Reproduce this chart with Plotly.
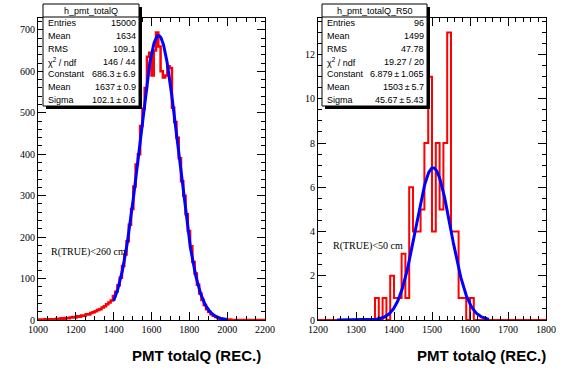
import numpy as np
import plotly.graph_objects as go

W, H = 567, 384

# ---------------- data ----------------
# Left: h_pmt_totalQ, 100 bins of 12 from 1000 to 2200
left_xmin, left_bw = 1000, 12
left_counts = [
    1, 0, 1, 2, 1, 2, 1, 2, 3, 2,
    4, 3, 5, 4, 6, 7, 6, 9, 8, 11,
    10, 14, 13, 17, 19, 21, 24, 26, 30, 33,
    38, 42, 47, 58, 68, 84, 102, 130, 158, 190,
    230, 268, 322, 375, 400, 468, 510, 560, 635, 645,
    590, 650, 694, 660, 600, 585, 590, 612, 608, 512,
    478, 440, 390, 335, 300, 255, 215, 178, 140, 112,
    85, 64, 48, 36, 26, 20, 14, 10, 7, 5,
    3, 2, 2, 1, 1, 0, 0, 0, 0, 0,
    0, 0, 0, 0, 0, 0, 0, 0, 0, 0,
]
# Right: h_pmt_totalQ_R50, 60 bins of 10 from 1200 to 1800
right_xmin, right_bw = 1200, 10
right_counts = [
    0, 0, 0, 0, 0, 0, 0, 0, 0, 0,
    0, 0, 0, 0, 0, 1, 0, 1, 0, 2,
    1, 1, 3, 1, 6, 4, 4, 5, 8, 11,
    4, 8, 5, 8, 13, 4, 4, 1, 1, 0,
    1, 0, 0, 0, 0, 0, 0, 0, 0, 0,
    0, 0, 0, 0, 0, 0, 0, 0, 0, 0,
]

# Gaussian fit parameters (from stats boxes)
left_fit = dict(const=686.3, mean=1637, sigma=102.1, lo=1400, hi=2000)
right_fit = dict(const=6.879, mean=1503, sigma=45.67, lo=1250, hi=1650)

PM = "\u2009±\u2009"
left_title = "h_pmt_totalQ"
left_stats = [("Entries", "15000"), ("Mean", "1634"), ("RMS", "109.1"),
              ("χ<sup>2</sup> / ndf", "146 / 44"), ("Constant", "686.3" + PM + "6.9"),
              ("Mean", "1637" + PM + "0.9"), ("Sigma", "102.1" + PM + "0.6")]
right_title = "h_pmt_totalQ_R50"
right_stats = [("Entries", "96"), ("Mean", "1499"), ("RMS", "47.78"),
               ("χ<sup>2</sup> / ndf", "19.27 / 20"), ("Constant", "6.879" + PM + "1.065"),
               ("Mean", "1503" + PM + "5.7"), ("Sigma", "45.67" + PM + "5.43")]
left_label = "R(TRUE)<260 cm"
right_label = "R(TRUE)<50 cm"
xtitle = "PMT totalQ (REC.)"


def px(x):
    return x / W


def py(y):
    return 1 - y / H


def step(xmin, bw, counts):
    edges = [xmin + i * bw for i in range(len(counts) + 1)]
    return edges, list(counts) + [counts[-1]]


def gauss(p):
    xs = np.linspace(p["lo"], p["hi"], 300)
    return xs, p["const"] * np.exp(-0.5 * ((xs - p["mean"]) / p["sigma"]) ** 2)


fig = go.Figure()

RED = "rgb(255,0,0)"
BLUE = "rgb(0,0,255)"

ex, ey = step(left_xmin, left_bw, left_counts)
fig.add_trace(go.Scatter(x=ex, y=ey, mode="lines", line=dict(shape="hv", color=RED, width=2.5),
                         xaxis="x", yaxis="y", showlegend=False, hoverinfo="skip"))
gx, gy = gauss(left_fit)
fig.add_trace(go.Scatter(x=gx, y=gy, mode="lines", line=dict(color=BLUE, width=3),
                         xaxis="x", yaxis="y", showlegend=False, hoverinfo="skip"))

ex, ey = step(right_xmin, right_bw, right_counts)
fig.add_trace(go.Scatter(x=ex, y=ey, mode="lines", line=dict(shape="hv", color=RED, width=2),
                         xaxis="x2", yaxis="y2", showlegend=False, hoverinfo="skip"))
gx, gy = gauss(right_fit)
fig.add_trace(go.Scatter(x=gx, y=gy, mode="lines", line=dict(color=BLUE, width=3),
                         xaxis="x2", yaxis="y2", showlegend=False, hoverinfo="skip"))

# panel geometry (window pixels)
L = dict(x0=38, x1=265)
R = dict(x0=318, x1=546)
TOP, BOT = 18, 320

tickfont = dict(family="Liberation Serif, Times New Roman, serif", size=10, color="black")
axcommon = dict(showgrid=False, zeroline=False, showline=True, linecolor="black", linewidth=1,
                mirror="allticks", ticks="inside", tickcolor="black", tickfont=tickfont,
                automargin=False)

ymax_left = 1.05 * max(left_counts)
ymax_right = 1.05 * max(right_counts)

fig.update_layout(
    width=W, height=H, margin=dict(l=0, r=0, t=0, b=0, autoexpand=False),
    paper_bgcolor="white", plot_bgcolor="white", hovermode=False,
    xaxis=dict(domain=[px(L["x0"]), px(L["x1"])], range=[1000, 2200], anchor="y",
               tick0=1000, dtick=200, ticklen=8,
               minor=dict(ticks="inside", dtick=50, ticklen=4, tickcolor="black"), **axcommon),
    yaxis=dict(domain=[py(BOT), py(TOP)], range=[0, ymax_left], anchor="x",
               tick0=0, dtick=100, ticklen=8,
               minor=dict(ticks="inside", dtick=20, ticklen=4, tickcolor="black"), **axcommon),
    xaxis2=dict(domain=[px(R["x0"]), px(R["x1"])], range=[1200, 1800], anchor="y2",
                tick0=1200, dtick=100, ticklen=8,
                minor=dict(ticks="inside", dtick=20, ticklen=4, tickcolor="black"), **axcommon),
    yaxis2=dict(domain=[py(BOT), py(TOP)], range=[0, ymax_right], anchor="x2",
                tick0=0, dtick=2, ticklen=8,
                minor=dict(ticks="inside", dtick=0.5, ticklen=4, tickcolor="black"), **axcommon),
)

shapes = []
annotations = []
sfont = dict(family="Liberation Sans, Arial, sans-serif", size=9, color="black")


def stats_box(x0, x1, y0, y1, title, rows, title_h=13):
    # shadow
    shapes.append(dict(type="rect", xref="paper", yref="paper",
                       x0=px(x0 + 3), x1=px(x1 + 3), y0=py(y1 + 3), y1=py(y0 + 3),
                       fillcolor="black", line=dict(width=0)))
    shapes.append(dict(type="rect", xref="paper", yref="paper",
                       x0=px(x0), x1=px(x1), y0=py(y1), y1=py(y0),
                       fillcolor="white", line=dict(color="black", width=1)))
    shapes.append(dict(type="line", xref="paper", yref="paper",
                       x0=px(x0), x1=px(x1), y0=py(y0 + title_h), y1=py(y0 + title_h),
                       line=dict(color="black", width=1)))
    annotations.append(dict(xref="paper", yref="paper", x=px((x0 + x1) / 2), y=py(y0 + title_h / 2),
                            text=title, showarrow=False, font=sfont, xanchor="center", yanchor="middle"))
    rh = (y1 - y0 - title_h) / len(rows)
    for i, (k, v) in enumerate(rows):
        yc = y0 + title_h + rh * (i + 0.5)
        annotations.append(dict(xref="paper", yref="paper", x=px(x0 + 3), y=py(yc), text=k,
                                showarrow=False, font=sfont, xanchor="left", yanchor="middle"))
        annotations.append(dict(xref="paper", yref="paper", x=px(x1 - 1), y=py(yc), text=v,
                                showarrow=False, font=sfont, xanchor="right", yanchor="middle"))


stats_box(43, 139, 4, 106, left_title, left_stats)
stats_box(322, 427, 4, 106, right_title, right_stats)

lfont = dict(family="Liberation Serif, Times New Roman, serif", size=10, color="black")
annotations.append(dict(xref="paper", yref="paper", x=px(49), y=py(252), text=left_label,
                        showarrow=False, font=lfont, xanchor="left", yanchor="middle"))
annotations.append(dict(xref="paper", yref="paper", x=px(331), y=py(246), text=right_label,
                        showarrow=False, font=lfont, xanchor="left", yanchor="middle"))

tfont = dict(family="Liberation Sans, Arial, sans-serif", size=15, color="black")
for xr in (263, 548):
    annotations.append(dict(xref="paper", yref="paper", x=px(xr), y=py(355),
                            text="<b>" + xtitle + "</b>", showarrow=False, font=tfont,
                            xanchor="right", yanchor="middle"))

fig.update_layout(shapes=shapes, annotations=annotations)
fig.write_html("out.html", config={"displayModeBar": False, "staticPlot": True},
               post_script="document.body.style.margin='0px';")
